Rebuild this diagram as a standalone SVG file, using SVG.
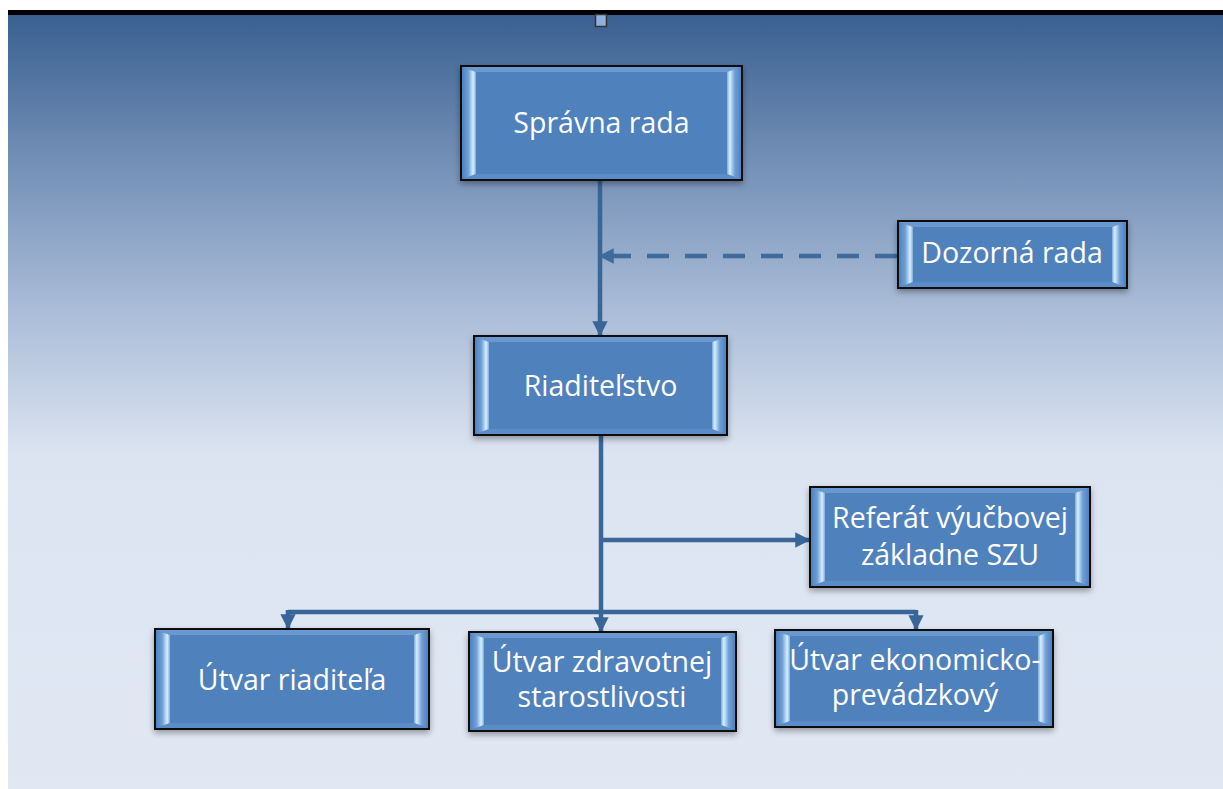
<svg xmlns="http://www.w3.org/2000/svg" width="1223" height="789" viewBox="0 0 1223 789">
<defs>
<linearGradient id="bg" x1="0" y1="0" x2="0" y2="1">
<stop offset="0" stop-color="#3a6091"/>
<stop offset="0.2" stop-color="#7692b8"/>
<stop offset="0.38" stop-color="#aabcd7"/>
<stop offset="0.57" stop-color="#dce4f1"/>
<stop offset="1" stop-color="#e1e8f4"/>
</linearGradient>
<linearGradient id="gl" x1="0" y1="0" x2="1" y2="0">
<stop offset="0" stop-color="#4f81bd"/>
<stop offset="0.45" stop-color="#6f9fd6"/>
<stop offset="0.8" stop-color="#d6efff"/>
<stop offset="1" stop-color="#7ea9dc"/>
</linearGradient>
<linearGradient id="gr" x1="1" y1="0" x2="0" y2="0">
<stop offset="0" stop-color="#4f81bd"/>
<stop offset="0.45" stop-color="#6f9fd6"/>
<stop offset="0.8" stop-color="#d6efff"/>
<stop offset="1" stop-color="#7ea9dc"/>
</linearGradient>
<filter id="sh" x="-10%" y="-10%" width="120%" height="130%">
<feDropShadow dx="0" dy="3" stdDeviation="3" flood-color="#000" flood-opacity="0.35"/>
</filter>
<marker id="ah" viewBox="0 0 10 10" refX="9" refY="5" markerWidth="3.4" markerHeight="3.4" orient="auto" markerUnits="strokeWidth">
<path d="M0,0 L10,5 L0,10 Z" fill="#3a6597"/>
</marker>
<marker id="ahs" viewBox="0 0 10 10" refX="9" refY="5" markerWidth="3.4" markerHeight="3.4" orient="auto" markerUnits="strokeWidth">
<path d="M0,0 L10,5 L0,10 Z" fill="#3f6a9c"/>
</marker>
</defs>
<style>
.box{fill:#4f81bd;stroke:#111;stroke-width:2;filter:url(#sh)}
.tb{fill:#6b98cf}
.bb{fill:#5b8cc7}
.gl{fill:url(#gl)}
.gr{fill:url(#gr)}
.t{font-family:"Open Sans","Noto Sans",sans-serif;font-size:28.5px;fill:#fff;text-anchor:middle}
.ln{fill:none;stroke:#3a6597;stroke-width:4.5}
.dash{fill:none;stroke:#3f6a9c;stroke-width:4.5;stroke-dasharray:22 16}
</style>
<rect x="0" y="0" width="1223" height="789" fill="#fff"/>
<rect x="8" y="15" width="1215" height="774" fill="url(#bg)"/>
<rect x="8" y="10" width="1215" height="5" fill="#000"/>
<rect x="595.5" y="14.5" width="11" height="12" fill="#8fb0dc" stroke="#333" stroke-width="1.5"/>

<g id="connectors">
<line class="ln" x1="600" y1="180" x2="600" y2="335" marker-end="url(#ah)"/>
<line class="dash" x1="897" y1="256" x2="600" y2="256" marker-end="url(#ahs)"/>
<line class="ln" x1="601" y1="435" x2="601" y2="631" marker-end="url(#ah)"/>
<line class="ln" x1="601" y1="540" x2="809" y2="540" marker-end="url(#ah)"/>
<path class="ln" d="M288,612 H916"/>
<line class="ln" x1="288" y1="610" x2="288" y2="628" marker-end="url(#ah)"/>
<line class="ln" x1="916" y1="610" x2="916" y2="629" marker-end="url(#ah)"/>
</g>

<g id="n1">
<rect class="box" x="461" y="66" width="281" height="114"/>
<polygon class="tb" points="462,67 741,67 727,72 476,72"/>
<polygon class="bb" points="462,179 741,179 727,174 476,174"/>
<polygon class="gl" points="462,67 476,72 476,174 462,179"/>
<polygon class="gr" points="741,67 727,72 727,174 741,179"/>
<text class="t" x="601.5" y="133">Správna rada</text>
</g>

<g id="n2">
<rect class="box" x="898" y="221" width="229" height="67"/>
<polygon class="tb" points="899,222 1126,222 1112,227 913,227"/>
<polygon class="bb" points="899,287 1126,287 1112,282 913,282"/>
<polygon class="gl" points="899,222 913,227 913,282 899,287"/>
<polygon class="gr" points="1126,222 1112,227 1112,282 1126,287"/>
<text class="t" x="1012" y="263">Dozorná rada</text>
</g>

<g id="n3">
<rect class="box" x="474" y="336" width="253" height="99"/>
<polygon class="tb" points="475,337 726,337 712,342 489,342"/>
<polygon class="bb" points="475,434 726,434 712,429 489,429"/>
<polygon class="gl" points="475,337 489,342 489,429 475,434"/>
<polygon class="gr" points="726,337 712,342 712,429 726,434"/>
<text class="t" x="600.5" y="396">Riaditeľstvo</text>
</g>

<g id="n4">
<rect class="box" x="810" y="487" width="280" height="100"/>
<polygon class="tb" points="811,488 1089,488 1075,493 825,493"/>
<polygon class="bb" points="811,586 1089,586 1075,581 825,581"/>
<polygon class="gl" points="811,488 825,493 825,581 811,586"/>
<polygon class="gr" points="1089,488 1075,493 1075,581 1089,586"/>
<text class="t" x="950" y="528">Referát výučbovej</text>
<text class="t" x="950" y="565">základne SZU</text>
</g>

<g id="n5">
<rect class="box" x="155" y="629" width="274" height="100"/>
<polygon class="tb" points="156,630 428,630 414,635 170,635"/>
<polygon class="bb" points="156,728 428,728 414,723 170,723"/>
<polygon class="gl" points="156,630 170,635 170,723 156,728"/>
<polygon class="gr" points="428,630 414,635 414,723 428,728"/>
<text class="t" x="292" y="690">Útvar riaditeľa</text>
</g>

<g id="n6">
<rect class="box" x="469" y="632" width="267" height="99"/>
<polygon class="tb" points="470,633 735,633 721,638 484,638"/>
<polygon class="bb" points="470,730 735,730 721,725 484,725"/>
<polygon class="gl" points="470,633 484,638 484,725 470,730"/>
<polygon class="gr" points="735,633 721,638 721,725 735,730"/>
<text class="t" x="602" y="672">Útvar zdravotnej</text>
<text class="t" x="602" y="707">starostlivosti</text>
</g>

<g id="n7">
<rect class="box" x="775" y="630" width="278" height="97"/>
<polygon class="tb" points="776,631 1052,631 1038,636 790,636"/>
<polygon class="bb" points="776,726 1052,726 1038,721 790,721"/>
<polygon class="gl" points="776,631 790,636 790,721 776,726"/>
<polygon class="gr" points="1052,631 1038,636 1038,721 1052,726"/>
<text class="t" x="915" y="670">Útvar ekonomicko-</text>
<text class="t" x="915" y="705">prevádzkový</text>
</g>
</svg>
